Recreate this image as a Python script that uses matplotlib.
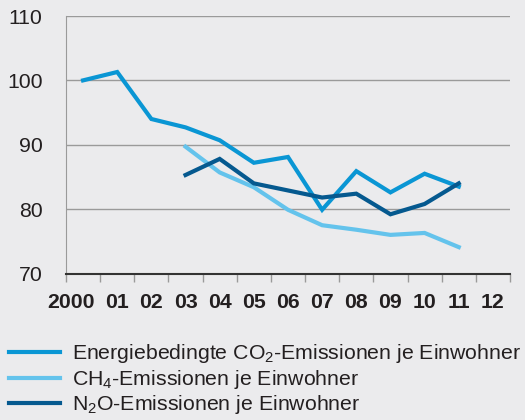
import numpy as np
import matplotlib.pyplot as plt
from matplotlib.transforms import ScaledTranslation

# Index values (2000 = 100)
years = ['2000', '01', '02', '03', '04', '05', '06', '07', '08', '09', '10', '11', '12']
co2 = [100.0, 101.3, 94.0, 92.7, 90.7, 87.2, 88.1, 79.9, 85.9, 82.6, 85.5, 83.5]
ch4 = [None, None, None, 89.7, 85.7, 83.4, 79.9, 77.5, 76.8, 76.0, 76.3, 74.1]
n2o = [None, None, None, 85.3, 87.8, 84.0, 82.9, 81.8, 82.4, 79.2, 80.8, 84.0]
y_ticks = [70, 80, 90, 100, 110]

labels = ['Energiebedingte CO$_2$-Emissionen je Einwohner',
          'CH$_4$-Emissionen je Einwohner',
          'N$_2$O-Emissionen je Einwohner']
colors = ['#0a96d4', '#64c3ec', '#05598f']

plt.rcParams['font.family'] = 'Liberation Sans'
plt.rcParams['mathtext.fontset'] = 'custom'
plt.rcParams['mathtext.rm'] = 'Liberation Sans'
plt.rcParams['mathtext.default'] = 'regular'

bg = '#ebebed'
txt = '#231f20'
fs = 15.3

fig = plt.figure(figsize=(5.25, 4.2), dpi=100, facecolor=bg)
ax = fig.add_axes([0.1257, 0.3488, 0.8457, 0.6131], facecolor=bg)

x = np.arange(len(years))
lines = []
for vals, c, lab in zip([co2, ch4, n2o], colors, labels):
    v = np.array([np.nan if a is None else a for a in vals], dtype=float)
    ln, = ax.plot(x[:len(v)], v, color=c, lw=3, label=lab, solid_joinstyle='miter')
    lines.append(ln)

ax.set_xlim(-0.5, len(years) - 0.5)
ax.set_ylim(70, 110)
ax.set_yticks(y_ticks)
ax.set_yticklabels([str(t) for t in y_ticks], fontsize=fs, color=txt)
ax.grid(axis='y', color='#9a9a9a', lw=1)
ax.set_axisbelow(True)

# category labels centered, tick marks at boundaries
ax.set_xticks(x)
ax.set_xticklabels(years, fontsize=fs, fontweight='bold', color=txt)
ax.set_xticks(np.arange(-0.5, len(years)), minor=True)
ax.tick_params(axis='x', which='major', length=0, pad=14)
ax.tick_params(axis='x', which='minor', length=6, color='#9a9a9a', width=1)
ax.tick_params(axis='y', length=0, pad=17)
lbl0 = ax.get_xticklabels()[0]
lbl0.set_transform(lbl0.get_transform() + ScaledTranslation(-0.12, 0, fig.dpi_scale_trans))

for s in ['top', 'right']:
    ax.spines[s].set_visible(False)
ax.spines['left'].set_color('#9a9a9a')
ax.spines['bottom'].set_color('#333333')
ax.spines['bottom'].set_linewidth(1.5)

fig.legend(handles=lines, loc='upper left', bbox_to_anchor=(0.0, 0.205),
           frameon=False, fontsize=fs, handlelength=2.4, handletextpad=0.58,
           labelspacing=0.12, borderaxespad=0, labelcolor=txt)

fig.savefig('out.png', dpi=100, facecolor=bg)
